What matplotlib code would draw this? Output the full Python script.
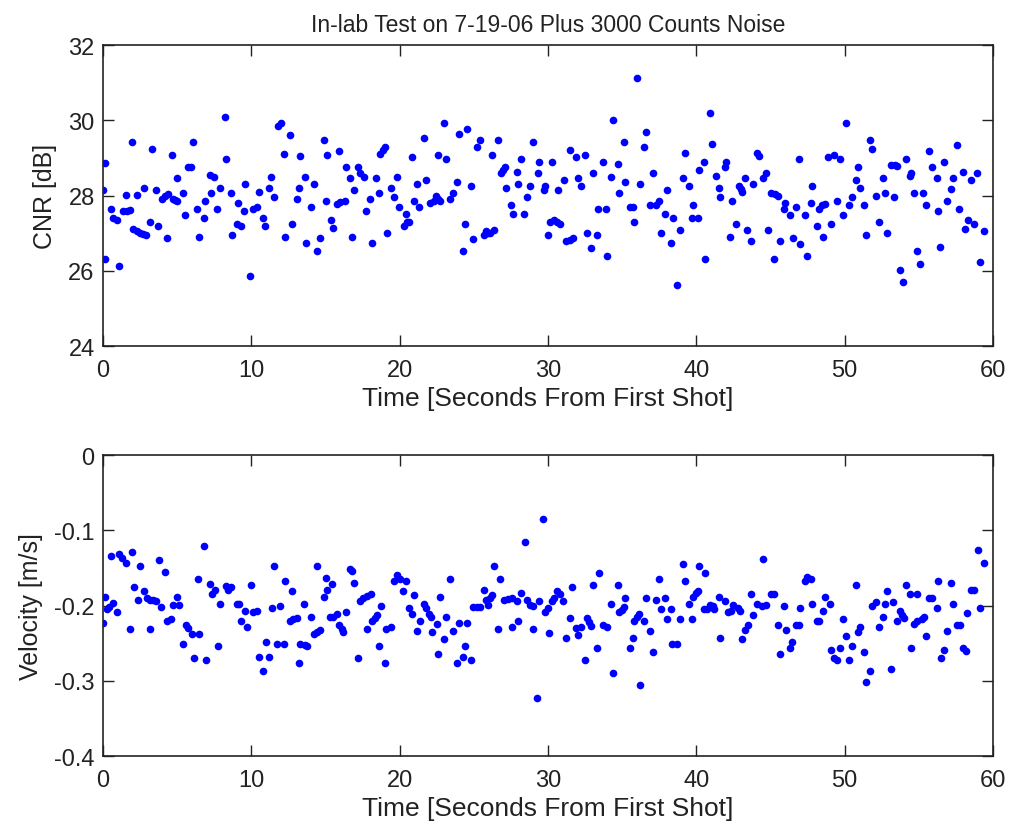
import matplotlib
matplotlib.use("Agg")
import matplotlib.pyplot as plt

plt.rcParams["font.family"] = ["Liberation Sans", "DejaVu Sans"]

# CNR per shot (time in seconds, CNR in dB)
cnr_t = [0.1, 0.0, 0.1, 0.54, 0.7, 0.97, 1.1, 1.37, 1.53, 1.6, 1.8, 1.93, 2.0, 2.3, 2.5,
         2.7, 2.9, 2.3, 2.76, 3.15, 3.3, 3.55, 3.7, 4.0, 4.2, 4.4, 4.3, 4.65, 4.7, 4.85,
         5.0, 5.0, 5.4, 5.56, 5.7, 5.9, 6.07, 6.36, 6.47, 6.8, 6.9, 7.2, 7.5, 7.3, 7.7,
         7.9, 8.2, 8.3, 8.6, 8.7, 9.0, 9.3, 9.1, 9.5, 9.6, 9.9, 10.1, 10.4, 10.5, 10.8,
         10.95, 11.2, 11.35, 11.5, 11.8, 12.0, 12.2, 12.3, 12.6, 12.76, 13.05, 13.2, 13.3, 13.6, 13.7,
         14.0, 14.2, 14.4, 14.6, 14.9, 15.0, 15.1,
         15.37, 15.53, 15.93, 16.36, 16.65, 16.79, 16.9, 15.8, 16.0, 16.3, 17.2, 17.3, 17.6,
         17.73, 18.0, 18.16, 18.43, 18.59, 18.7, 18.9, 19.0, 19.15, 19.4, 19.6, 19.8, 19.96,
         20.3, 20.5, 20.65, 20.4, 20.8, 20.95, 21.2, 21.3, 21.65, 21.78, 22.05, 22.3, 22.45,
         22.55, 22.75, 22.6, 23.15, 23.0, 23.4, 23.6, 23.85, 24.0, 24.55, 24.27, 24.4, 24.8,
         24.97, 25.2, 25.4, 25.65, 25.8, 25.95, 26.1, 26.35, 26.2, 26.6, 26.8, 26.95, 27.1,
         27.2, 27.5, 27.65, 27.9, 28.0, 28.2, 28.4, 28.6, 28.8, 29.0, 29.3, 29.4, 29.7,
         29.8, 29.98, 30.1,
         30.26, 30.37, 30.6, 30.8, 30.64, 31.06, 31.2, 31.45, 31.65, 31.5, 31.9, 32.5, 32.05,
         32.2, 32.6, 32.9, 33.0, 33.3, 33.4, 33.9, 33.7, 34.0, 34.26, 34.4, 34.7, 34.8,
         35.1, 35.2, 35.5, 35.7, 35.8, 36.0, 36.2, 36.5, 36.6, 36.9, 37.3, 37.5, 37.05,
         37.6, 37.9, 38.0, 38.3, 38.45, 38.7, 38.9, 39.1, 39.25, 39.5, 39.7, 40.1, 39.8,
         40.2, 40.5, 40.6, 40.9, 41.05, 41.3, 41.5, 41.6, 41.9, 42.0, 42.3, 42.4, 42.7,
         42.9, 43.0, 43.1, 43.3, 43.4, 43.7, 43.85, 44.1, 44.25, 44.5, 44.7, 44.85, 45.0,
         45.3, 45.47, 45.2, 45.65, 45.9, 46.0, 46.3, 46.5, 46.7, 46.9, 47.0, 47.3, 47.45,
         47.7, 47.8, 48.1, 48.26, 48.5, 48.7, 48.55, 48.9, 49.3, 49.7, 49.1, 49.5, 49.9,
         50.1, 50.3, 50.5, 50.75, 50.9, 51.0, 51.3, 51.45, 51.7, 51.85, 52.1, 52.3, 52.55,
         52.7, 52.85, 53.1, 53.4, 53.5, 53.3, 53.7, 53.95, 54.1, 54.4, 54.5, 54.65, 54.9,
         55.1, 55.3, 55.5, 55.7, 55.9, 56.2, 56.3, 56.45, 56.7, 56.9, 57.15, 57.3, 57.55,
         57.7, 57.95, 58.1, 58.3, 58.7, 58.5, 58.95, 59.1, 59.4]
cnr_db = [28.86, 28.14, 26.31, 27.63, 27.4, 27.34, 26.14, 27.58, 28.02, 27.6, 27.62, 29.41, 27.12, 27.05, 27.0,
          26.98, 26.95, 28.02, 28.2, 27.3, 29.24, 28.14, 27.2, 27.9, 28.0, 28.04, 26.86, 29.08, 27.92, 27.88,
          27.85, 28.47, 28.07, 27.47, 28.75, 28.75, 29.41, 27.63, 26.9, 27.4, 27.86, 28.55, 28.48, 28.07, 27.63,
          28.2, 30.09, 28.96, 28.07, 26.96, 27.25, 27.18, 27.8, 27.58, 28.3, 25.86, 27.65, 27.7, 28.1, 27.4,
          27.2, 28.2, 28.5, 27.96, 29.85, 29.93, 29.1, 26.9, 29.6, 27.25, 27.9, 28.2, 29.04, 28.5, 26.74,
          27.7, 28.3, 26.52, 26.86, 29.47, 27.86, 29.08,
          27.36, 27.13, 29.19, 28.75, 28.47, 26.9, 28.14, 27.78, 27.82, 27.86, 28.75, 28.6, 28.5,
          27.58, 27.9, 26.75, 28.47, 28.07, 29.1, 29.2, 29.3, 27.0, 28.2, 27.96, 28.5, 27.7,
          27.2, 27.3, 27.3, 27.5, 29.03, 27.86, 28.3, 27.7, 29.53, 28.4, 27.8, 27.85, 28.0,
          27.9, 27.85, 29.08, 28.96, 29.92, 27.9, 28.08, 28.36, 29.63, 29.76, 26.52, 27.24, 28.24,
          26.85, 29.3, 29.47, 26.95, 27.05, 27.0, 27.0, 27.08, 29.08, 29.47, 28.6, 28.68, 28.75,
          28.2, 27.75, 27.52, 28.63, 28.3, 28.96, 27.52, 27.96, 28.24, 29.41, 28.6, 28.9, 28.14,
          28.25, 26.96, 27.3,
          28.9, 27.36, 27.3, 27.25, 28.14, 28.4, 26.8, 26.83, 26.87, 29.2, 29.03, 29.08, 28.47,
          28.25, 27.0, 26.6, 28.6, 26.96, 27.63, 27.63, 28.9, 26.4, 28.5, 30.02, 28.85, 28.07,
          29.41, 28.36, 27.7, 27.7, 27.3, 31.13, 28.3, 29.3, 29.7, 27.75, 27.75, 27.85, 28.6,
          27.0, 27.52, 28.14, 26.75, 27.4, 25.63, 27.08, 28.47, 29.13, 28.24, 27.4, 27.4, 27.75,
          28.68, 28.9, 26.3, 30.19, 29.36, 28.52, 28.2, 27.96, 28.75, 28.9, 26.9, 27.86, 27.24,
          28.24, 28.17, 28.1, 28.47, 27.08, 26.8, 28.3, 29.13, 29.06, 28.47, 28.6, 27.08, 28.07,
          28.04, 28.0, 26.3, 26.8, 27.63, 27.8, 27.47, 26.86, 27.7, 28.96, 26.7, 27.47, 26.4,
          27.8, 28.24, 27.19, 27.63, 27.74, 27.77, 26.9, 29.03, 29.08, 28.96, 27.24, 27.86, 27.47,
          29.92, 27.75, 27.96, 28.4, 28.75, 28.19, 27.75, 26.96, 29.47, 29.24, 28.0, 27.3, 28.47,
          28.07, 27.0, 28.8, 28.8, 28.78, 27.96, 26.02, 25.69, 28.96, 28.52, 28.6, 28.07, 26.52,
          26.19, 28.07, 27.74, 29.19, 28.75, 28.47, 27.58, 26.63, 28.9, 27.86, 28.18, 28.47, 29.35,
          27.63, 28.63, 27.12, 27.36, 27.24, 28.4, 28.59, 26.24, 27.07]

# Velocity per shot (time in seconds, velocity in m/s)
vel_t = [0.0, 0.1, 0.25, 0.43, 0.7, 0.97, 0.54, 1.1, 1.26, 1.53, 1.82, 1.96, 2.07, 2.34, 2.5,
         2.76, 2.95, 3.17, 3.4, 3.6, 3.9, 3.15, 3.75, 4.16, 4.3, 4.56, 4.7, 5.0, 5.15, 5.4,
         5.57, 5.7, 5.98, 6.1, 6.4, 6.5, 6.8, 6.95, 7.2, 7.35, 7.55, 7.75, 7.9, 8.3, 8.43,
         8.6, 9.0, 9.2, 9.3, 9.55, 9.7, 10.0, 10.1, 10.4, 10.5, 10.8, 10.96, 11.2, 11.4, 11.5,
         11.7, 12.2, 11.9, 12.3, 12.6, 12.8, 13.05, 12.74, 13.2, 13.3, 13.6, 13.75, 13.55, 14.0,
         14.2, 14.4, 14.6, 14.4, 14.9, 15.0, 15.1, 15.3,
         15.42, 15.53, 15.8, 16.36, 15.93, 16.1, 16.2, 16.65, 16.79, 16.9, 17.2, 17.33, 17.5,
         17.8, 18.05, 17.8, 18.16, 18.34, 18.5, 18.59, 18.72, 19.0, 19.1, 19.4, 19.6, 19.85,
         20.0, 20.4, 20.25, 20.65, 20.8, 20.97, 21.2, 21.37, 21.64, 21.8, 21.95, 22.1, 22.2,
         22.5, 22.6, 22.75, 23.0, 23.15, 23.4, 23.6, 23.85, 24.27, 24.0, 24.55, 24.4, 24.84,
         24.97, 25.2, 25.4, 25.65, 25.8, 26.1, 26.2, 25.94, 26.34, 26.63, 26.77, 27.0, 27.33,
         27.6, 27.9, 27.6, 28.0, 28.2, 28.43, 28.6, 28.8, 29.0, 29.0, 29.26, 29.4, 29.67,
         29.8, 29.98, 30.05,
         30.26, 30.41, 30.6, 30.8, 31.04, 31.2, 31.5, 31.63, 31.9, 32.05, 32.2, 32.46, 32.6,
         32.75, 32.9, 33.0, 33.3, 33.43, 33.7, 33.97, 34.26, 34.4, 34.7, 34.8, 34.98, 35.1,
         35.2, 35.5, 35.7, 35.8, 36.0, 36.1, 36.2, 36.5, 36.6, 36.9, 37.05, 37.3, 37.45,
         37.6, 37.9, 38.0, 38.3, 38.37, 38.7, 38.9, 39.1, 39.25, 39.5, 39.7, 39.8, 39.97,
         40.1, 40.2, 40.6, 40.5, 40.7, 40.9, 41.1, 41.2, 41.5, 41.6, 41.9, 42.1, 42.35,
         42.5, 42.8, 42.95, 43.1, 43.27, 43.45, 43.7, 43.85, 44.1, 44.4, 44.7, 44.5,
         45.05, 45.2, 45.5, 45.65, 45.9, 46.05, 46.3, 46.46, 46.7, 46.9, 47.0, 47.3, 47.45,
         47.7, 47.8, 48.1, 48.26, 48.57, 48.7, 49.0, 49.1, 49.25, 49.5, 49.65, 49.9, 50.1,
         50.3, 50.5, 50.75, 50.9, 51.04, 51.3, 51.45, 51.7, 51.85, 52.1, 52.3, 52.57, 52.73,
         52.85, 53.1, 53.25, 53.5, 53.7, 53.85, 54.0, 54.1, 54.4, 54.9, 54.5, 54.64, 54.9,
         55.2, 55.36, 55.5, 55.7, 55.9, 56.2, 56.3, 56.46, 56.7, 56.9, 57.15, 57.3, 57.56,
         57.74, 57.97, 58.15, 58.26, 58.53, 58.7, 58.96, 59.1, 59.36]
vel_ms = [-0.223, -0.188, -0.204, -0.202, -0.197, -0.209, -0.134, -0.132, -0.137, -0.143, -0.231, -0.129, -0.176, -0.192, -0.148,
          -0.181, -0.19, -0.193, -0.193, -0.194, -0.202, -0.231, -0.14, -0.156, -0.22, -0.218, -0.199, -0.188, -0.199, -0.251,
          -0.226, -0.23, -0.238, -0.27, -0.165, -0.238, -0.121, -0.273, -0.172, -0.184, -0.179, -0.254, -0.198, -0.174, -0.179,
          -0.175, -0.198, -0.198, -0.22, -0.207, -0.229, -0.173, -0.209, -0.207, -0.268, -0.287, -0.249, -0.268, -0.203, -0.148,
          -0.251, -0.251, -0.201, -0.167, -0.22, -0.218, -0.217, -0.181, -0.276, -0.251, -0.253, -0.254, -0.198, -0.215,
          -0.238, -0.235, -0.233, -0.148, -0.188, -0.163, -0.179, -0.215,
          -0.171, -0.215, -0.211, -0.209, -0.226, -0.231, -0.235, -0.151, -0.154, -0.17, -0.27, -0.194, -0.19,
          -0.187, -0.185, -0.231, -0.22, -0.217, -0.212, -0.254, -0.201, -0.276, -0.231, -0.229, -0.167, -0.159,
          -0.165, -0.167, -0.181, -0.203, -0.211, -0.186, -0.234, -0.22, -0.198, -0.203, -0.211, -0.215, -0.235,
          -0.224, -0.265, -0.188, -0.245, -0.215, -0.165, -0.234, -0.276, -0.268, -0.223, -0.223, -0.254, -0.273,
          -0.202, -0.202, -0.202, -0.179, -0.193, -0.19, -0.186, -0.199, -0.148, -0.231, -0.165, -0.193, -0.191,
          -0.19, -0.194, -0.229, -0.22, -0.183, -0.115, -0.192, -0.199, -0.201, -0.231, -0.323, -0.194, -0.085,
          -0.209, -0.203, -0.237,
          -0.194, -0.19, -0.181, -0.185, -0.194, -0.243, -0.217, -0.176, -0.23, -0.239, -0.228, -0.273, -0.217,
          -0.222, -0.227, -0.173, -0.256, -0.157, -0.226, -0.229, -0.198, -0.29, -0.173, -0.209, -0.206, -0.202,
          -0.19, -0.256, -0.243, -0.22, -0.215, -0.211, -0.306, -0.22, -0.19, -0.234, -0.262, -0.193, -0.165,
          -0.204, -0.19, -0.218, -0.204, -0.251, -0.251, -0.218, -0.145, -0.167, -0.198, -0.218, -0.188, -0.183,
          -0.181, -0.148, -0.157, -0.205, -0.204, -0.199, -0.201, -0.205, -0.188, -0.243, -0.194, -0.209, -0.207,
          -0.199, -0.203, -0.207, -0.245, -0.233, -0.226, -0.185, -0.212, -0.198, -0.2, -0.199, -0.138,
          -0.185, -0.185, -0.226, -0.265, -0.201, -0.233, -0.257, -0.248, -0.226, -0.226, -0.203, -0.167, -0.162,
          -0.165, -0.198, -0.22, -0.22, -0.207, -0.188, -0.198, -0.259, -0.27, -0.273, -0.256, -0.218, -0.24,
          -0.273, -0.254, -0.173, -0.235, -0.229, -0.262, -0.301, -0.287, -0.201, -0.195, -0.229, -0.215, -0.198,
          -0.181, -0.284, -0.195, -0.22, -0.207, -0.212, -0.216, -0.173, -0.185, -0.185, -0.256, -0.224, -0.221,
          -0.218, -0.215, -0.24, -0.19, -0.19, -0.203, -0.167, -0.27, -0.259, -0.234, -0.17, -0.198, -0.226,
          -0.226, -0.256, -0.26, -0.21, -0.179, -0.179, -0.126, -0.203, -0.143]

title = "In-lab Test on 7-19-06 Plus 3000 Counts Noise"
xlabel = "Time [Seconds From First Shot]"

fig = plt.figure(figsize=(10.13, 8.28), dpi=100)
ax1 = fig.add_axes([0.1017, 0.5809, 0.8786, 0.3635])
ax2 = fig.add_axes([0.1017, 0.0857, 0.8786, 0.3635])

ax1.plot(cnr_t, cnr_db, "o", color="blue", ms=5.5, mew=0)
ax1.set_xlim(0, 60)
ax1.set_ylim(24, 32)
ax1.set_yticks([24, 26, 28, 30, 32])
ax1.set_ylabel("CNR [dB]", fontsize=18, labelpad=8)
ax1.set_title(title, fontsize=16.5, pad=10, color="#222222")

ax2.plot(vel_t, vel_ms, "o", color="blue", ms=5.5, mew=0)
ax2.set_xlim(0, 60)
ax2.set_ylim(-0.4, 0)
ax2.set_yticks([-0.4, -0.3, -0.2, -0.1, 0])
ax2.set_yticklabels(["-0.4", "-0.3", "-0.2", "-0.1", "0"])
ax2.set_ylabel("Velocity [m/s]", fontsize=18, labelpad=8)

for ax in (ax1, ax2):
    ax.set_xticks([0, 10, 20, 30, 40, 50, 60])
    ax.set_xlabel(xlabel, fontsize=19, labelpad=4, color="#222222")
    ax.yaxis.label.set_color("#222222")
    ax.tick_params(direction="in", top=True, right=True, length=8, width=1,
                   labelsize=17, pad=6, colors="#222222")
    ax.tick_params(axis="x", pad=9)
    for s in ax.spines.values():
        s.set_linewidth(1.2)
        s.set_color("#222222")

fig.savefig("out.png", dpi=100, facecolor="white")
